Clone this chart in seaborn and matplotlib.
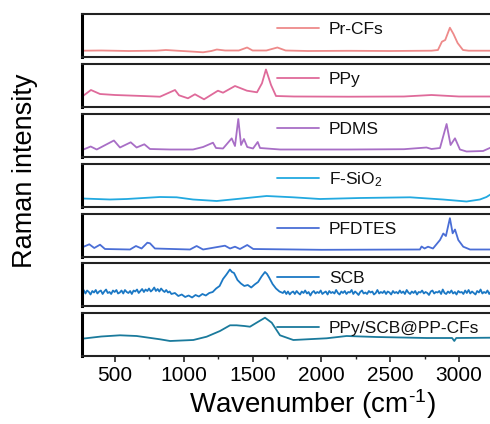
import matplotlib
matplotlib.use("Agg")
import matplotlib.pyplot as plt
from matplotlib.ticker import MultipleLocator
import seaborn as sns
import pandas as pd

# ---------------- data (heights above each panel's floor, arbitrary units) ----------------
labels = ["Pr-CFs", "PPy", "PDMS", "F-SiO$_\\mathregular{2}$", "PFDTES", "SCB", "PPy/SCB@PP-CFs"]
colors = ["#EE8A8A", "#DF6A9A", "#A86EC6", "#22A9E0", "#4A6ED6", "#1B78C4", "#1A7A9C"]

prcf_w = [260, 400, 600, 800, 870, 950, 1050, 1140, 1200, 1240, 1300, 1400, 1460, 1500, 1600, 1680,
          1740, 1900, 2200, 2500, 2800, 2847, 2876, 2900, 2934, 2960, 2990, 3029, 3070, 3240]
prcf_i = [6.3, 6.5, 6.0, 6.3, 7.0, 6.3, 5.5, 4.7, 6.0, 7.5, 6.5, 6.5, 9.5, 6.5, 6.5, 9.5,
          6.5, 6.0, 6.2, 6.0, 6.3, 7.0, 15.3, 17.0, 29.3, 23.0, 14.0, 7.0, 6.3, 6.3]

ppy_w = [262, 325, 391, 500, 700, 827, 936, 965, 1030, 1081, 1147, 1248, 1285, 1372, 1459, 1532,
         1568, 1597, 1634, 1670, 1800, 2200, 2600, 2800, 3000, 3240]
ppy_i = [10.5, 17.0, 13.0, 12.0, 11.0, 10.3, 17.0, 11.7, 8.7, 12.7, 7.7, 16.3, 14.3, 21.0, 16.3, 14.7,
         23.7, 37.5, 22.0, 11.0, 10.5, 10.3, 10.5, 12.0, 10.5, 10.5]

pdms_w = [262, 323, 367, 492, 536, 614, 657, 713, 754, 900, 1067, 1140, 1212, 1234, 1285, 1348, 1372,
          1396, 1416, 1437, 1461, 1503, 1537, 1554, 1700, 2200, 2600, 2764, 2800, 2862, 2910, 2939,
          2971, 3007, 3055, 3175, 3240]
pdms_i = [7.0, 10.5, 7.5, 16.5, 9.5, 14.7, 9.5, 12.7, 8.0, 7.5, 7.5, 10.0, 14.3, 9.0, 8.5, 18.6, 11.0,
          38.0, 12.0, 18.0, 10.0, 8.5, 15.0, 9.0, 7.5, 7.5, 7.8, 9.5, 8.0, 9.0, 33.0, 12.0,
          18.7, 7.5, 5.5, 6.0, 10.0]

fsio_w = [262, 463, 585, 827, 948, 1067, 1239, 1408, 1602, 1794, 1990, 2280, 2644, 2884, 3055,
          3152, 3200, 3240]
fsio_i = [8.5, 7.5, 8.0, 10.0, 9.7, 7.5, 6.0, 8.3, 11.0, 9.7, 8.0, 9.0, 9.7, 7.5, 5.5,
          7.5, 10.0, 13.5]

pfd_w = [262, 313, 349, 391, 427, 609, 652, 693, 735, 754, 790, 1045, 1093, 1140, 1299, 1336, 1372,
         1408, 1461, 1505, 2000, 2716, 2728, 2750, 2775, 2811, 2862, 2886, 2905, 2934, 2954, 2971,
         2995, 3031, 3080, 3240]
pfd_i = [9.7, 12.7, 9.0, 12.3, 8.0, 7.5, 11.0, 8.5, 14.3, 13.7, 8.5, 7.5, 11.0, 7.5, 11.3, 8.5, 10.3,
         8.0, 12.0, 8.0, 7.2, 7.5, 10.5, 8.5, 10.3, 8.5, 17.0, 23.5, 21.0, 38.8, 23.7, 27.5,
         17.0, 10.3, 7.5, 7.5]

scb_w = [260, 272, 285, 297, 310, 322, 335, 347, 360, 372,
         385, 397, 410, 422, 435, 447, 460, 472, 485, 497,
         510, 522, 535, 547, 560, 572, 585, 597, 610, 622,
         635, 647, 660, 672, 685, 697, 710, 722, 735, 747,
         760, 772, 785, 797, 810, 822, 835, 847, 860, 872,
         885, 897, 910, 935, 960, 985, 1010, 1035, 1060, 1085,
         1110, 1135, 1160, 1185, 1210, 1235, 1260, 1285, 1310, 1335,
         1350, 1365, 1390, 1415, 1440, 1465, 1490, 1515, 1540, 1565,
         1590, 1605, 1620, 1645, 1670, 1695, 1720, 1732, 1745, 1757,
         1770, 1782, 1795, 1807, 1820, 1832, 1845, 1857, 1870, 1882,
         1895, 1907, 1920, 1932, 1945, 1957, 1970, 1982, 1995, 2007,
         2020, 2032, 2045, 2057, 2070, 2082, 2095, 2107, 2120, 2132,
         2145, 2157, 2170, 2182, 2195, 2207, 2220, 2232, 2245, 2257,
         2270, 2282, 2295, 2307, 2320, 2332, 2345, 2357, 2370, 2382,
         2395, 2407, 2420, 2432, 2445, 2457, 2470, 2482, 2495, 2507,
         2520, 2532, 2545, 2557, 2570, 2582, 2595, 2607, 2620, 2632,
         2645, 2657, 2670, 2682, 2695, 2707, 2720, 2732, 2745, 2757,
         2770, 2782, 2795, 2807, 2820, 2832, 2845, 2857, 2870, 2882,
         2895, 2907, 2920, 2932, 2945, 2957, 2970, 2982, 2995, 3007,
         3020, 3032, 3045, 3057, 3070, 3082, 3095, 3107, 3120, 3132,
         3145, 3157, 3170, 3182, 3195, 3207, 3220, 3232, 3240]
scb_i = [14.0, 16.0, 12.5, 15.5, 14.0, 11.5, 15.0, 13.5, 16.0, 12.5,
         14.5, 15.5, 12.0, 14.5, 16.5, 13.0, 14.0, 12.0, 15.5, 14.0,
         16.0, 12.5, 13.5, 15.5, 12.5, 16.0, 14.0, 13.0, 15.0, 12.0,
         15.5, 14.5, 16.5, 13.0, 15.0, 17.0, 14.0, 16.5, 15.0, 17.5,
         14.5, 16.0, 18.5, 15.0, 17.0, 14.5, 17.5, 15.5, 14.0, 16.0,
         13.5, 14.5, 12.0, 13.0, 10.0, 11.5, 9.0, 10.5, 8.5, 11.0,
         9.5, 12.0, 10.5, 13.0, 14.0, 17.5, 20.0, 27.0, 31.5, 36.5,
         34.0, 33.0, 26.0, 22.5, 20.0, 21.0, 18.5, 21.5, 24.0, 29.5,
         34.0, 32.0, 28.5, 22.0, 17.5, 14.5, 13.0, 15.0, 12.0, 14.5,
         11.5, 13.5, 14.5, 12.0, 15.0, 13.0, 11.5, 14.5, 13.0, 15.5,
         12.5, 14.0, 10.5, 13.5, 15.0, 12.5, 14.0, 13.0, 15.5, 12.0,
         13.5, 14.5, 11.5, 15.0, 13.0, 14.0, 12.5, 16.0, 13.0, 11.5,
         14.5, 13.0, 15.0, 12.0, 14.0, 13.5, 16.0, 12.0, 14.5, 13.0,
         11.0, 14.0, 15.5, 12.5, 13.5, 12.0, 15.0, 13.5, 14.5, 11.5,
         13.0, 16.0, 12.5, 14.0, 13.0, 15.0, 12.0, 14.5, 13.5, 11.5,
         15.0, 13.0, 14.0, 12.5, 15.5, 13.0, 14.5, 12.0, 16.0, 13.5,
         12.0, 14.5, 13.0, 15.0, 11.5, 14.0, 13.5, 15.5, 12.5, 14.0,
         13.0, 11.0, 14.5, 15.5, 12.5, 14.0, 13.5, 15.0, 12.0, 16.5,
         13.0, 12.0, 14.5, 13.0, 15.5, 12.5, 14.0, 11.5, 15.0, 13.5,
         14.0, 12.0, 15.5, 13.0, 16.0, 12.5, 14.5, 13.0, 11.5, 15.0,
         13.5, 16.5, 12.5, 14.0, 13.0, 15.5, 12.0, 14.5, 13.5]

comp_w = [262, 400, 536, 657, 827, 900, 1069, 1166, 1263, 1336, 1384, 1440, 1481, 1529, 1590, 1639,
          1699, 1796, 2038, 2183, 2401, 2764, 2950, 2966, 2980, 3240]
comp_i = [17.3, 19.5, 20.7, 20.0, 16.7, 15.0, 16.0, 19.3, 25.0, 30.7, 30.7, 30.0, 29.3, 33.3, 38.3, 33.3,
          20.7, 16.0, 17.7, 20.0, 19.0, 18.0, 18.0, 15.0, 18.0, 18.3]

series_w = [prcf_w, ppy_w, pdms_w, fsio_w, pfd_w, scb_w, comp_w]
series_i = [prcf_i, ppy_i, pdms_i, fsio_i, pfd_i, scb_i, comp_i]

x_ticks = [500, 1000, 1500, 2000, 2500, 3000]

# ---------------- styling ----------------
sns.set_style("ticks")
plt.rcParams["font.family"] = ["Liberation Sans", "DejaVu Sans"]
plt.rcParams["mathtext.fontset"] = "custom"
plt.rcParams["mathtext.rm"] = "Liberation Sans"
plt.rcParams["mathtext.it"] = "Liberation Sans:italic"
plt.rcParams["mathtext.bf"] = "Liberation Sans:bold"
plt.rcParams["text.color"] = "black"
plt.rcParams["axes.labelcolor"] = "black"
plt.rcParams["xtick.color"] = "black"
plt.rcParams["xtick.labelcolor"] = "black"

W, H = 490, 424
fig = plt.figure(figsize=(W / 100, H / 100), dpi=100)

left_px, right_px = 82, 492
tops = [14, 64, 114, 164, 214, 263, 313]
ph = 43

for k in range(7):
    top = tops[k]
    ax = fig.add_axes([left_px / W, 1 - (top + ph) / H, (right_px - left_px) / W, ph / H])
    df = pd.DataFrame({"w": series_w[k], "I": series_i[k]})
    sns.lineplot(data=df, x="w", y="I", ax=ax, color=colors[k], lw=1.3, label=labels[k])
    ax.set_xlim(260, 3240)
    ax.set_ylim(0, 43)
    ax.set_xlabel("")
    ax.set_ylabel("")
    ax.set_yticks([])
    for s in ["top", "bottom"]:
        ax.spines[s].set_linewidth(1.5)
        ax.spines[s].set_color("#222222")
    ax.spines["left"].set_linewidth(2.2)
    ax.spines["left"].set_color("black")
    ax.spines["right"].set_visible(False)
    ax.legend(loc="center left", bbox_to_anchor=(0.4756, 0.64), frameon=False,
              fontsize=12.5, handlelength=2.4, handletextpad=0.6, borderpad=0,
              borderaxespad=0, labelcolor="#111111")
    if k < 6:
        ax.tick_params(axis="x", bottom=False, labelbottom=False)
    else:
        ax.set_xticks(x_ticks)
        ax.xaxis.set_minor_locator(MultipleLocator(250))
        ax.tick_params(axis="x", which="major", direction="out", length=4.5, width=1.2,
                       labelsize=15, pad=3, color="#222222")
        ax.tick_params(axis="x", which="minor", direction="out", length=2.5, width=1.0,
                       color="#222222")

fig.text(25 / W, 1 - 171 / H, "Raman intensity", rotation=90, ha="center", va="center",
         fontsize=19.5)
fig.text(312 / W, 1 - 404 / H, "Wavenumber (cm$^{\\text{-1}}$)", ha="center",
         va="center", fontsize=20)

fig.savefig("out.png", dpi=100)
